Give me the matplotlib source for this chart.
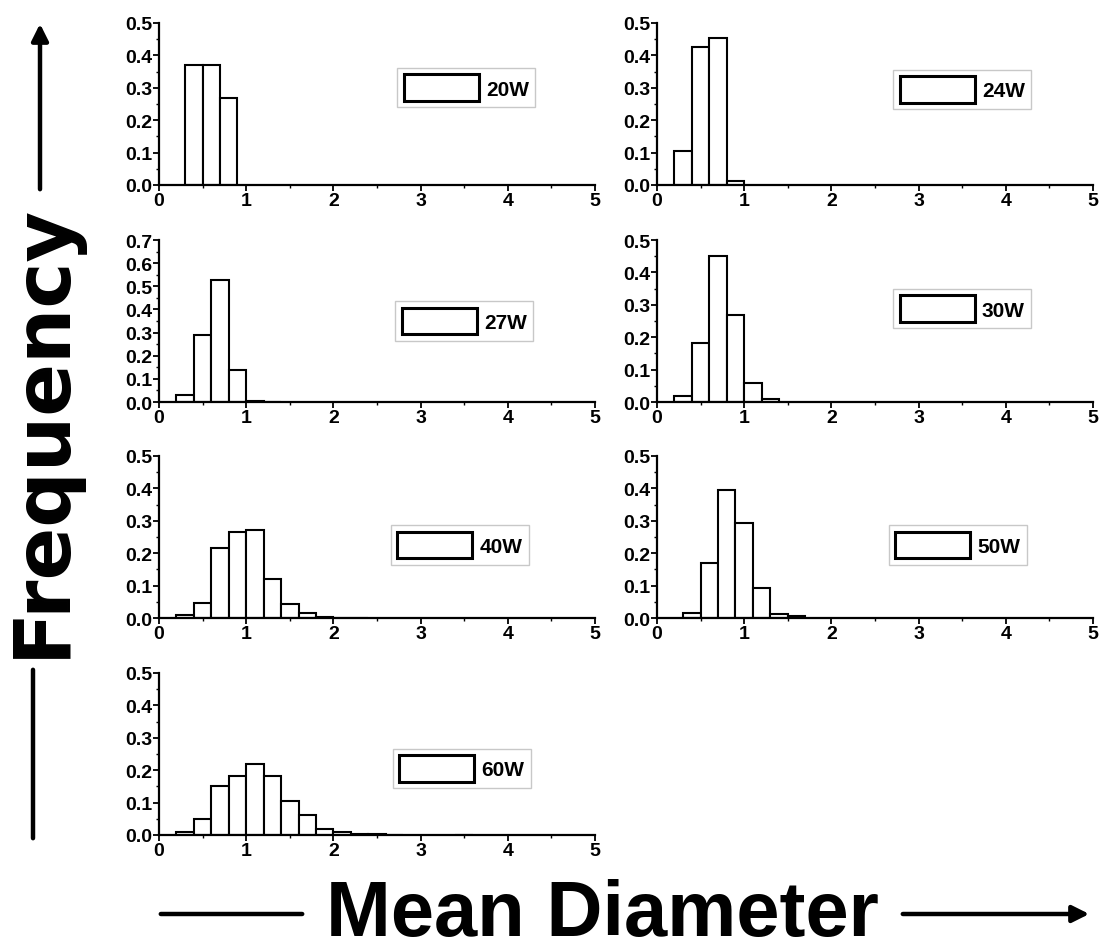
import matplotlib
matplotlib.use("Agg")
import matplotlib.pyplot as plt
from matplotlib.ticker import MultipleLocator

# bin left edges (bin width 0.2) and frequencies
labels = ["20W", "24W", "27W", "30W", "40W", "50W", "60W"]

left_20 = [0.3, 0.5, 0.7]
freq_20 = [0.37, 0.37, 0.27]

left_24 = [0.2, 0.4, 0.6, 0.8]
freq_24 = [0.105, 0.425, 0.455, 0.012]

left_27 = [0.2, 0.4, 0.6, 0.8, 1.0, 1.2]
freq_27 = [0.029, 0.29, 0.526, 0.138, 0.005, 0.002]

left_30 = [0.2, 0.4, 0.6, 0.8, 1.0, 1.2]
freq_30 = [0.018, 0.182, 0.452, 0.267, 0.059, 0.008]

left_40 = [0.2, 0.4, 0.6, 0.8, 1.0, 1.2, 1.4, 1.6, 1.8, 2.0, 2.2]
freq_40 = [0.01, 0.046, 0.215, 0.266, 0.272, 0.119, 0.042, 0.016, 0.002, 0.001, 0.001]

left_50 = [0.3, 0.5, 0.7, 0.9, 1.1, 1.3, 1.5]
freq_50 = [0.016, 0.171, 0.396, 0.294, 0.092, 0.013, 0.005]

left_60 = [0.2, 0.4, 0.6, 0.8, 1.0, 1.2, 1.4, 1.6, 1.8, 2.0, 2.2, 2.4, 2.6, 3.4]
freq_60 = [0.008, 0.048, 0.15, 0.183, 0.219, 0.183, 0.105, 0.063, 0.019, 0.009,
           0.003, 0.002, 0.001, 0.001]

y_max = [0.5, 0.5, 0.7, 0.5, 0.5, 0.5, 0.5]

W, H = 1104, 953
plt.rcParams["font.family"] = ["Liberation Sans", "DejaVu Sans"]
fig = plt.figure(figsize=(W / 100, H / 100), dpi=100)

# panel placement in image pixels
cols = [159, 657]
rows = [24, 241, 457, 674]
pw, ph = 436, 162
# legend centre in axes fraction
leg_pos = [(0.705, 0.60), (0.70, 0.59), (0.70, 0.50), (0.70, 0.575),
           (0.69, 0.45), (0.69, 0.45), (0.695, 0.41)]

data = [(left_20, freq_20), (left_24, freq_24), (left_27, freq_27), (left_30, freq_30),
        (left_40, freq_40), (left_50, freq_50), (left_60, freq_60)]

for i, (lefts, freqs) in enumerate(data):
    r, c = divmod(i, 2)
    x0, y0 = cols[c], rows[r]
    ax = fig.add_axes([x0 / W, (H - y0 - ph) / H, pw / W, ph / H])
    ax.bar(lefts, freqs, width=0.2, align="edge", color="white",
           edgecolor="black", linewidth=1.5, label=labels[i])
    ax.set_xlim(0, 5)
    ax.set_ylim(0, y_max[i])
    ax.xaxis.set_major_locator(MultipleLocator(1))
    ax.xaxis.set_minor_locator(MultipleLocator(0.5))
    ax.yaxis.set_major_locator(MultipleLocator(0.1))
    ax.yaxis.set_minor_locator(MultipleLocator(0.05))
    ax.yaxis.set_major_formatter(plt.FormatStrFormatter("%.1f"))
    for s in ["top", "right"]:
        ax.spines[s].set_visible(False)
    for s in ["left", "bottom"]:
        ax.spines[s].set_linewidth(1.6)
    ax.tick_params(which="major", direction="out", length=4, width=1.3,
                   labelsize=14, pad=1)
    ax.tick_params(which="minor", direction="out", length=2.5, width=1.0)
    for t in ax.get_xticklabels() + ax.get_yticklabels():
        t.set_fontweight("bold")
    leg = ax.legend(loc="center", bbox_to_anchor=leg_pos[i], handlelength=3.6,
                    handleheight=1.6, handletextpad=0.35, borderpad=0.3,
                    fancybox=False, framealpha=1,
                    prop={"weight": "bold", "size": 15})
    leg.get_frame().set_edgecolor("#c8c8c8")
    leg.get_frame().set_linewidth(1.0)
    for p in leg.get_patches():
        p.set_linewidth(2.2)

fig.text(64 / W, 1 - 430 / H, "Frequency", rotation=90, rotation_mode="anchor",
         ha="center", va="baseline", family="DejaVu Sans", weight="bold", size=56)
fig.text(602 / W, 1 - 936 / H, "Mean Diameter", ha="center", va="baseline",
         family="Liberation Sans", weight="bold", size=56)

arrow = dict(arrowstyle="-|>", color="black", lw=3.2, mutation_scale=25)
line = dict(arrowstyle="-", color="black", lw=3.2)
fig.add_artist(plt.Annotation("", xy=(40, H - 22), xytext=(40, H - 193),
                              xycoords="figure pixels", arrowprops=arrow))
fig.add_artist(plt.Annotation("", xy=(33, H - 668), xytext=(33, H - 842),
                              xycoords="figure pixels", arrowprops=line))
fig.add_artist(plt.Annotation("", xy=(305, H - 915), xytext=(158, H - 915),
                              xycoords="figure pixels", arrowprops=line))
fig.add_artist(plt.Annotation("", xy=(1092, H - 915), xytext=(900, H - 915),
                              xycoords="figure pixels", arrowprops=arrow))

fig.savefig("out.png", dpi=100)
